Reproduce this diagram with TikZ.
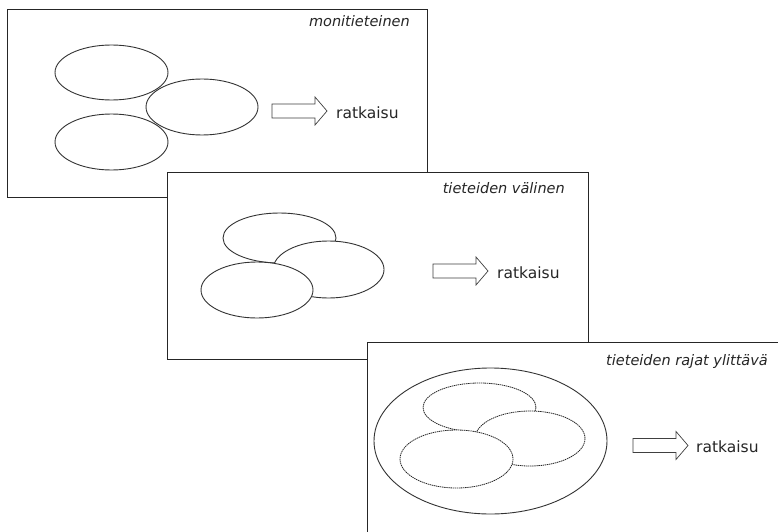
\documentclass[tikz,border=0pt]{standalone}
\usepackage{fontspec}
\setmainfont{DejaVu Sans}
\begin{document}
\begin{tikzpicture}[x=1pt,y=-1pt,
  panel/.style={draw=black!85,line width=0.9pt,fill=white},
  oval/.style={draw=black!80,line width=0.9pt,fill=white},
  dotoval/.style={draw=black!85,line width=0.8pt,dash pattern=on 1.4pt off 0.7pt,fill=white},
  blockarrow/.style={draw=black!75,line width=0.7pt,fill=white},
  title/.style={anchor=base east,inner sep=0pt,font=\fontsize{14.5}{17}\selectfont\itshape,text=black!85},
  result/.style={anchor=base west,inner sep=0pt,font=\fontsize{15.5}{18}\selectfont,text=black!85}]
\clip (0,0) rectangle (778,532);
\fill[white] (0,0) rectangle (778,532);
% panel 1
\draw[panel] (7,9) rectangle (427,197);
\node[title] (t1) at (410,27) {monitieteinen};
\draw[oval] (111.5,72.5) ellipse [x radius=56.5,y radius=27.5];
\draw[oval] (111.5,142) ellipse [x radius=56.5,y radius=28];
\draw[oval] (202,107) ellipse [x radius=56,y radius=28];
\draw[blockarrow] (272,104) -- (315,104) -- (315,97) -- (327,111) -- (315,125) -- (315,118) -- (272,118) -- cycle;
\node[result] (r1) at (336,118) {ratkaisu};
% panel 2
\draw[panel] (167,172) rectangle (588,359);
\node[title] (t2) at (565,193) {tieteiden välinen};
\draw[oval] (279.5,238) ellipse [x radius=56.5,y radius=25];
\draw[oval] (328.5,269.5) ellipse [x radius=55.5,y radius=28.5];
\draw[oval] (257,290) ellipse [x radius=56,y radius=28];
\draw[blockarrow] (433,264) -- (476,264) -- (476,257) -- (488,271) -- (476,285) -- (476,278) -- (433,278) -- cycle;
\node[result] (r2) at (497,278) {ratkaisu};
% panel 3
\draw[panel] (367,342) rectangle (800,560);
\node[title] (t3) at (768,365) {tieteiden rajat ylittävä};
\draw[oval] (490.5,441) ellipse [x radius=116.5,y radius=73];
\draw[dotoval] (479.5,407.5) ellipse [x radius=56.5,y radius=24.5];
\draw[dotoval] (530,438.5) ellipse [x radius=55,y radius=27.5];
\draw[dotoval] (456.5,459) ellipse [x radius=56.5,y radius=29];
\draw[blockarrow] (633,438.5) -- (676,438.5) -- (676,431.5) -- (688,445.5) -- (676,459.5) -- (676,452.5) -- (633,452.5) -- cycle;
\node[result] (r3) at (696,452) {ratkaisu};
\end{tikzpicture}
\end{document}
